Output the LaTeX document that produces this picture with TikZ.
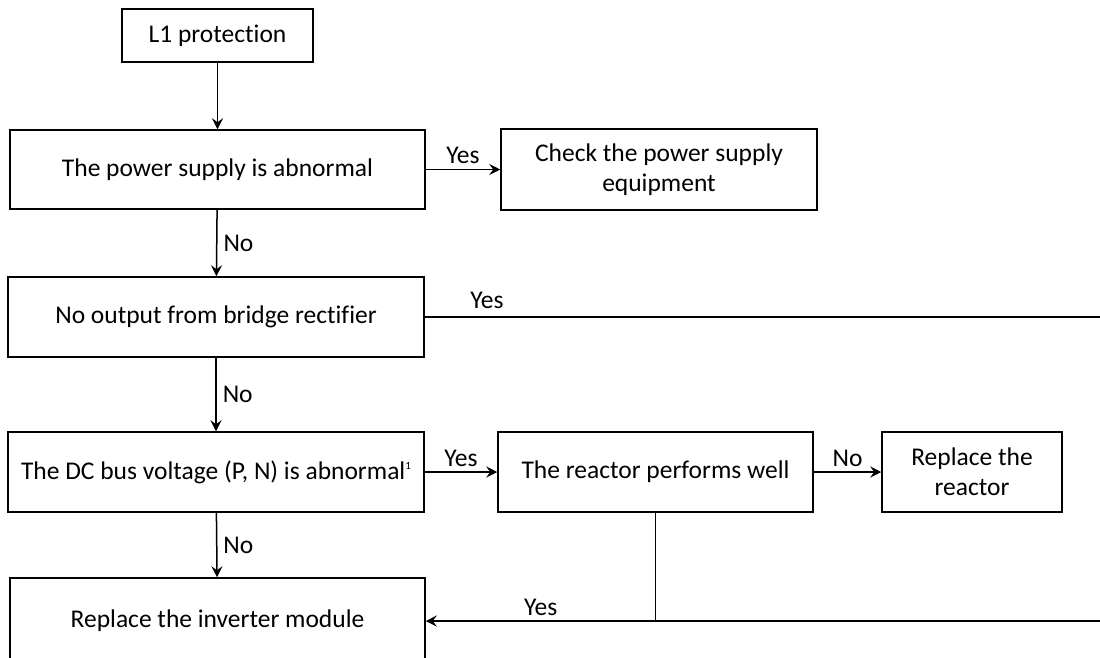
\documentclass[tikz,border=0pt]{standalone}
\usepackage{fontspec}
\setmainfont{Carlito}[Ligatures=CommonOff]
\usetikzlibrary{arrows.meta}
\begin{document}
\begin{tikzpicture}[x=1pt,y=-1pt,
  box/.style={draw,line width=1.5pt,inner sep=0pt,align=center,font=\fontsize{25.5}{30}\selectfont},
  conn/.style={line width=1.5pt},
  arr/.style={conn,-{Stealth[length=11pt,width=11pt,inset=4pt]}},
  lbl/.style={font=\fontsize{25.5}{30}\selectfont,inner sep=0pt}]
\useasboundingbox (0,0) rectangle (1100,657);
\clip (0,0) rectangle (1100,657);
\fill[white] (0,0) rectangle (1100,657);
\node[box,minimum width=191pt,minimum height=53pt] (n1) at (217.5,35.5) {L1 protection};
\node[box,minimum width=415pt,minimum height=79pt] (n2) at (217.5,169.5) {The power supply is abnormal};
\node[box,minimum width=316pt,minimum height=81pt] (chk) at (659,169.5) {Check the power supply\\equipment};
\node[box,minimum width=416pt,minimum height=80pt] (n3) at (216,317) {No output from bridge rectifier};
\node[box,minimum width=416pt,minimum height=80pt] (n4) at (216,472) {The DC bus voltage (P, N) is abnormal\raisebox{10pt}{\fontsize{11}{13}\selectfont 1}};
\node[box,minimum width=315pt,minimum height=80pt] (n5) at (655.5,472) {The reactor performs well};
\node[box,minimum width=180pt,minimum height=80pt] (n6) at (972,472) {Replace the\\reactor};
\node[box,minimum width=415pt,minimum height=86pt] (n7) at (217.5,621) {Replace the inverter module};
\coordinate (e1) at (1115,317);
\coordinate (e2) at (1115,621);
\coordinate (j) at (n5.south |- e2);
% connectors
\draw[arr] (n1) -- (n2);
\draw[arr] (n2) -- (chk) node[lbl,pos=0.5,above=5pt] {Yes};
\draw[arr] (n2) -- (n3) node[lbl,pos=0.5,right=6pt] {No};
\draw[conn] (n3.east) -- (e1) -- (e2) -- (j);
\node[lbl] (y2) at (487,300) {Yes};
\draw[arr] (n3) -- (n4) node[lbl,pos=0.5,right=6pt] {No};
\draw[arr] (n4) -- (n5) node[lbl,pos=0.5,above=5pt] {Yes};
\draw[arr] (n5) -- (n6) node[lbl,pos=0.5,above=5pt] {No};
\draw[arr] (n4) -- (n7) node[lbl,pos=0.5,right=6pt] {No};
\draw[conn] (n5.south) -- (j);
\draw[arr] (j) -- (n7.east) node[lbl,pos=0.5,above=5pt] {Yes};
\end{tikzpicture}
\end{document}
